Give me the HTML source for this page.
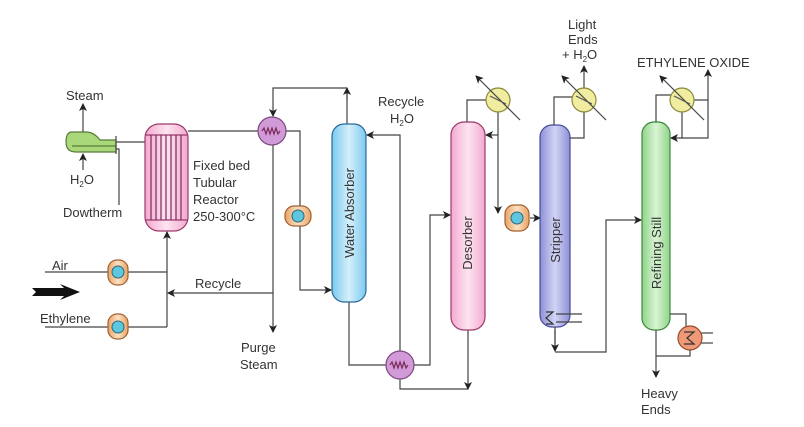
<!DOCTYPE html>
<html><head><meta charset="utf-8"><style>
html,body{margin:0;padding:0;background:#fff;}
svg{display:block;font-family:"Liberation Sans",sans-serif;}
text{fill:#333;font-size:13px;}
</style></head><body>
<svg width="804" height="427" viewBox="0 0 804 427" xmlns="http://www.w3.org/2000/svg">
<defs>
<marker id="a" markerWidth="8" markerHeight="8" refX="7" refY="4" orient="auto" markerUnits="userSpaceOnUse"><path d="M0,0 L8,4 L0,8 L2,4 Z" fill="#222"/></marker>
<linearGradient id="pk" x1="0" x2="1"><stop offset="0" stop-color="#f3a9cf"/><stop offset=".5" stop-color="#fde4f0"/><stop offset="1" stop-color="#f3a9cf"/></linearGradient>
<linearGradient id="bl" x1="0" x2="1"><stop offset="0" stop-color="#7cc9ee"/><stop offset=".5" stop-color="#d4f0fb"/><stop offset="1" stop-color="#7cc9ee"/></linearGradient>
<linearGradient id="pu" x1="0" x2="1"><stop offset="0" stop-color="#8d90d6"/><stop offset=".5" stop-color="#d2d4f4"/><stop offset="1" stop-color="#8d90d6"/></linearGradient>
<linearGradient id="gr" x1="0" x2="1"><stop offset="0" stop-color="#8fd48a"/><stop offset=".5" stop-color="#d9f3d4"/><stop offset="1" stop-color="#8fd48a"/></linearGradient>
<linearGradient id="or" x1="0" x2="1"><stop offset="0" stop-color="#e9a466"/><stop offset=".5" stop-color="#fde0c2"/><stop offset="1" stop-color="#e9a466"/></linearGradient>
</defs>
<g stroke="#444" stroke-width="1.2" fill="none">
<!-- green exchanger -->
<path d="M72,132 Q66,132 66,142 Q66,152 76,152 L116,152 L116,140 L100,140 Q94,132 86,132 Z" fill="#a9d87a" stroke="#5a7a3a"/>
<path d="M72,146 L116,146" stroke="#5a7a3a"/>
<line x1="116" y1="136" x2="116" y2="154"/>
<line x1="83" y1="132" x2="83" y2="104" marker-end="url(#a)"/>
<line x1="83" y1="170" x2="83" y2="154" marker-end="url(#a)"/>
<polyline points="116,149 119,149 119,205"/>
<line x1="116" y1="142" x2="145" y2="142"/>
<!-- reactor -->
<rect x="145" y="124" width="43" height="107" rx="14" fill="url(#pk)" stroke="#9a3a6a"/>
<line x1="145" y1="135" x2="188" y2="135" stroke="#9a3a6a"/>
<line x1="145" y1="220" x2="188" y2="220" stroke="#9a3a6a"/>
<g stroke="#7a2a5a">
<line x1="151" y1="135" x2="151" y2="220"/><line x1="156" y1="135" x2="156" y2="220"/><line x1="161" y1="135" x2="161" y2="220"/><line x1="166" y1="135" x2="166" y2="220"/><line x1="171" y1="135" x2="171" y2="220"/><line x1="176" y1="135" x2="176" y2="220"/><line x1="181" y1="135" x2="181" y2="220"/>
</g>
<line x1="188" y1="131" x2="258" y2="131"/>
<!-- feeds -->
<line x1="45" y1="272" x2="167" y2="272"/>
<line x1="45" y1="327" x2="167" y2="327"/>
<line x1="167" y1="327" x2="167" y2="232" marker-end="url(#a)"/>
<line x1="273" y1="293" x2="168" y2="293" marker-end="url(#a)"/>
<!-- condenser 1 -->
<line x1="273" y1="144" x2="273" y2="332" marker-end="url(#a)"/>
<polyline points="347,125 347,88"/>
<line x1="347" y1="100" x2="347" y2="88" marker-end="url(#a)"/>
<polyline points="347,88 273,88 273,116" marker-end="url(#a)"/>
<polyline points="286,131 300,131 300,290 331,290" marker-end="url(#a)"/>
<circle cx="272" cy="131" r="14" fill="#d39ad8" stroke="#7a4a82"/>
<path d="M262,131 l2,-3 l2,6 l2,-6 l2,6 l2,-6 l2,6 l2,-6 l2,6 l2,-3" stroke="#7a2a5a"/>
<!-- absorber -->
<rect x="332" y="124" width="34" height="178" rx="12" fill="url(#bl)" stroke="#2a6a9a"/>
<polyline points="400,365 400,135 367,135" marker-end="url(#a)"/>
<polyline points="349,302 349,365 386,365"/>
<polyline points="414,365 430,365 430,215 450,215" marker-end="url(#a)"/>
<polyline points="400,378 400,389 468,389"/>
<line x1="468" y1="330" x2="468" y2="389" marker-end="url(#a)"/>
<circle cx="400" cy="365" r="14" fill="#d39ad8" stroke="#7a4a82"/>
<path d="M390,365 l2,-3 l2,6 l2,-6 l2,6 l2,-6 l2,6 l2,-6 l2,6 l2,-3" stroke="#7a2a5a"/>
<!-- desorber -->
<rect x="451" y="122" width="34" height="208" rx="13" fill="url(#pk)" stroke="#9a3a6a"/>
<polyline points="467,122 467,100 486,100"/>
<polyline points="498,112 498,213" marker-end="url(#a)"/>
<line x1="498" y1="135" x2="486" y2="135" marker-end="url(#a)"/>
<line x1="530" y1="218" x2="540" y2="218" marker-end="url(#a)"/>
<!-- stripper -->
<rect x="540" y="125" width="30" height="202" rx="12" fill="url(#pu)" stroke="#4a4a9a"/>
<path d="M546,312 L553,312 L546,318 L553,324 L546,324" stroke="#333"/>
<line x1="556" y1="314" x2="582" y2="314"/><line x1="556" y1="322" x2="582" y2="322"/>
<polyline points="554,125 554,97 573,97"/>
<polyline points="584,112 584,138 570,138"/>
<line x1="584" y1="88" x2="584" y2="66" marker-end="url(#a)"/>
<polyline points="555,327 555,351"/>
<line x1="555" y1="330" x2="555" y2="351" marker-end="url(#a)"/>
<polyline points="555,352 606,352 606,220 641,220" marker-end="url(#a)"/>
<!-- refining still -->
<rect x="642" y="122" width="28" height="208" rx="12" fill="url(#gr)" stroke="#3a8a3a"/>
<polyline points="656,122 656,95 671,95"/>
<polyline points="682,112 682,138 671,138" marker-end="url(#a)"/>
<polyline points="694,100 708,100 708,138 682,138"/>
<line x1="708" y1="100" x2="708" y2="70" marker-end="url(#a)"/>
<polyline points="670,314 686,314 686,326"/>
<line x1="698" y1="333" x2="713" y2="333"/><line x1="698" y1="343" x2="713" y2="343"/>
<circle cx="690" cy="338" r="12" fill="#ee9a78" stroke="#9a4a2a"/>
<path d="M684,332 L694,332 L687,338 L694,344 L684,344" stroke="#333"/>
<polyline points="690,350 690,356 656,356"/>
<line x1="656" y1="330" x2="656" y2="377" marker-end="url(#a)"/>
<!-- yellow condensers -->
<circle cx="498" cy="100" r="12" fill="#f0eca0" stroke="#8a8a3a"/>
<circle cx="584" cy="100" r="12" fill="#f0eca0" stroke="#8a8a3a"/>
<circle cx="682" cy="100" r="12" fill="#f0eca0" stroke="#8a8a3a"/>
<line x1="520" y1="120" x2="476" y2="76" marker-end="url(#a)"/>
<line x1="606" y1="120" x2="562" y2="76" marker-end="url(#a)"/>
<line x1="704" y1="120" x2="660" y2="76" marker-end="url(#a)"/>
<line x1="490" y1="96" x2="506" y2="104" stroke="#555"/><line x1="576" y1="96" x2="592" y2="104" stroke="#555"/><line x1="674" y1="96" x2="690" y2="104" stroke="#555"/>
</g>
<!-- pumps -->
<g stroke="#a06030" stroke-width="1.2">
<rect x="108" y="260" width="20" height="25" rx="9" fill="url(#or)"/>
<rect x="108" y="314" width="20" height="25" rx="9" fill="url(#or)"/>
<rect x="285" y="206" width="26" height="20" rx="9" fill="url(#or)"/>
<rect x="505" y="205" width="24" height="26" rx="9" fill="url(#or)"/>
</g>
<g fill="#5ec6de" stroke="#2a6a7a">
<circle cx="118" cy="272" r="6"/><circle cx="118" cy="327" r="6"/><circle cx="298" cy="216" r="6"/><circle cx="517" cy="218" r="6"/>
</g>
<!-- big arrow -->
<path d="M32,288 L64,288 L60,284 L80,292 L60,300 L64,296 L32,296 L36,292 Z" fill="#111"/>
<!-- labels -->
<text x="66" y="100">Steam</text>
<text x="70" y="184">H<tspan font-size="8" dy="3">2</tspan><tspan dy="-3">O</tspan></text>
<text x="63" y="217">Dowtherm</text>
<text x="193" y="170">Fixed bed</text>
<text x="193" y="187">Tubular</text>
<text x="193" y="204">Reactor</text>
<text x="193" y="221">250-300°C</text>
<text x="52" y="270">Air</text>
<text x="40" y="323">Ethylene</text>
<text x="195" y="288">Recycle</text>
<text x="241" y="352">Purge</text>
<text x="240" y="369">Steam</text>
<text x="378" y="106">Recycle</text>
<text x="390" y="123">H<tspan font-size="8" dy="3">2</tspan><tspan dy="-3">O</tspan></text>
<text x="568" y="29">Light</text>
<text x="568" y="44">Ends</text>
<text x="562" y="59">+ H<tspan font-size="8" dy="3">2</tspan><tspan dy="-3">O</tspan></text>
<text x="637" y="67">ETHYLENE OXIDE</text>
<text x="641" y="398">Heavy</text>
<text x="641" y="414">Ends</text>
<text transform="translate(354,213) rotate(-90)" text-anchor="middle">Water Absorber</text>
<text transform="translate(472,243) rotate(-90)" text-anchor="middle">Desorber</text>
<text transform="translate(560,240) rotate(-90)" text-anchor="middle">Stripper</text>
<text transform="translate(661,253) rotate(-90)" text-anchor="middle">Refining Still</text>
</svg>
</body></html>
